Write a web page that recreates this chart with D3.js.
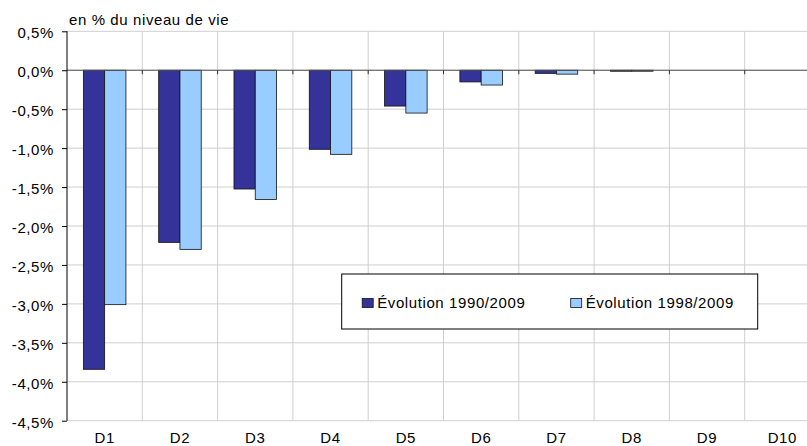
<!DOCTYPE html>
<html>
<head>
<meta charset="utf-8">
<script src="https://cdn.jsdelivr.net/npm/d3@7"></script>
<style>
  body { margin: 0; background: #fff; }
  text { font-family: "Liberation Sans", Arial, sans-serif; fill: #000; font-size: 15px; letter-spacing: 0.6px; }
</style>
</head>
<body>
<div id="canvas"></div>
<script>
// data
const deciles = ["D1", "D2", "D3", "D4", "D5", "D6", "D7", "D8", "D9", "D10"];
const series = ["Évolution 1990/2009", "Évolution 1998/2009"];
const evo1990 = [-3.84, -2.21, -1.525, -1.015, -0.46, -0.15, -0.04, -0.01, 0, 0];
const evo1998 = [-3.01, -2.30, -1.66, -1.08, -0.55, -0.19, -0.05, -0.01, 0, 0];
const yTicks = [0.5, 0, -0.5, -1, -1.5, -2, -2.5, -3, -3.5, -4, -4.5];
const colors = ["#333399", "#99ccff"];

let margin = { top: 31.3, left: 67 },
  width = 753,
  height = 389.4;

let svg = d3.select("#canvas")
  .append("svg")
  .attr("width", 807)
  .attr("height", 446)
  .append("g")
  .attr("transform", "translate(" + margin.left + "," + margin.top + ")");

let x = d3.scaleBand().domain(deciles).range([0, width]);
let x1 = d3.scaleBand().domain(series).range([0, x.bandwidth()]).paddingOuter(0.77);
let y = d3.scaleLinear().domain([-4.5, 0.5]).range([height, 0]);

let fmt = v => d3.format(".1f")(v).replace("−", "-").replace(".", ",") + "%";

// horizontal gridlines
svg.selectAll(".hgrid")
  .data(yTicks)
  .enter().append("line")
  .attr("x1", 0).attr("x2", width)
  .attr("y1", d => y(d)).attr("y2", d => y(d))
  .attr("stroke", "#cfcfcf").attr("stroke-width", 1);

// vertical gridlines at category boundaries
svg.selectAll(".vgrid")
  .data(deciles)
  .enter().append("line")
  .attr("x1", (d, i) => x.step() * (i + 1)).attr("x2", (d, i) => x.step() * (i + 1))
  .attr("y1", 0).attr("y2", height)
  .attr("stroke", "#cfcfcf").attr("stroke-width", 1);

// bars
let groups = svg.selectAll(".decile")
  .data(deciles)
  .enter().append("g")
  .attr("transform", d => "translate(" + x(d) + ",0)");

groups.selectAll("rect")
  .data((d, i) => [evo1990[i], evo1998[i]].map((v, k) => ({ key: series[k], v: v, k: k })))
  .enter().append("rect")
  .filter(d => d.v !== 0)
  .attr("x", d => x1(d.key))
  .attr("width", x1.bandwidth())
  .attr("y", y(0))
  .attr("height", d => Math.max(y(d.v) - y(0), 1))
  .attr("fill", d => colors[d.k])
  .attr("stroke", "#111")
  .attr("stroke-width", 0.8);

// zero axis with small ticks
svg.append("line")
  .attr("x1", 0).attr("x2", width)
  .attr("y1", y(0)).attr("y2", y(0))
  .attr("stroke", "#555");

svg.selectAll(".ztick")
  .data(deciles)
  .enter().append("line")
  .attr("x1", (d, i) => x.step() * (i + 1)).attr("x2", (d, i) => x.step() * (i + 1))
  .attr("y1", y(0)).attr("y2", y(0) + 4)
  .attr("stroke", "#333");

// y axis
let yAxis = svg.append("g")
  .call(d3.axisLeft(y).tickValues(yTicks).tickSize(5).tickFormat(fmt));
yAxis.select(".domain").attr("stroke", "#000").attr("d", "M0,0V" + height);
yAxis.selectAll(".tick line").attr("stroke", "#000");
yAxis.selectAll("text")
  .attr("x", -13)
  .attr("dy", "0.42em")
  .style("font-size", "15px");

// x labels at the bottom
svg.selectAll(".xlab")
  .data(deciles)
  .enter().append("text")
  .attr("x", d => x(d) + x.bandwidth() / 2)
  .attr("y", height + 22)
  .attr("text-anchor", "middle")
  .text(d => d);

// unit title
svg.append("text")
  .attr("x", 2)
  .attr("y", -6)
  .text("en % du niveau de vie");

// legend
let legend = svg.append("g")
  .attr("transform", "translate(" + (341.7 - margin.left) + "," + (274 - margin.top) + ")");

legend.append("rect")
  .attr("width", 416).attr("height", 55)
  .attr("fill", "#fff").attr("stroke", "#000").attr("stroke-width", 1);

let items = legend.selectAll(".item")
  .data(series)
  .enter().append("g")
  .attr("transform", (d, i) => "translate(" + (i === 0 ? 20.5 : 229) + ",24.5)");

items.append("rect")
  .attr("width", 11).attr("height", 9)
  .attr("fill", (d, i) => colors[i])
  .attr("stroke", "#111").attr("stroke-width", 0.8);

items.append("text")
  .attr("x", 15)
  .attr("y", 9.5)
  .text(d => d);
</script>
</body>
</html>
